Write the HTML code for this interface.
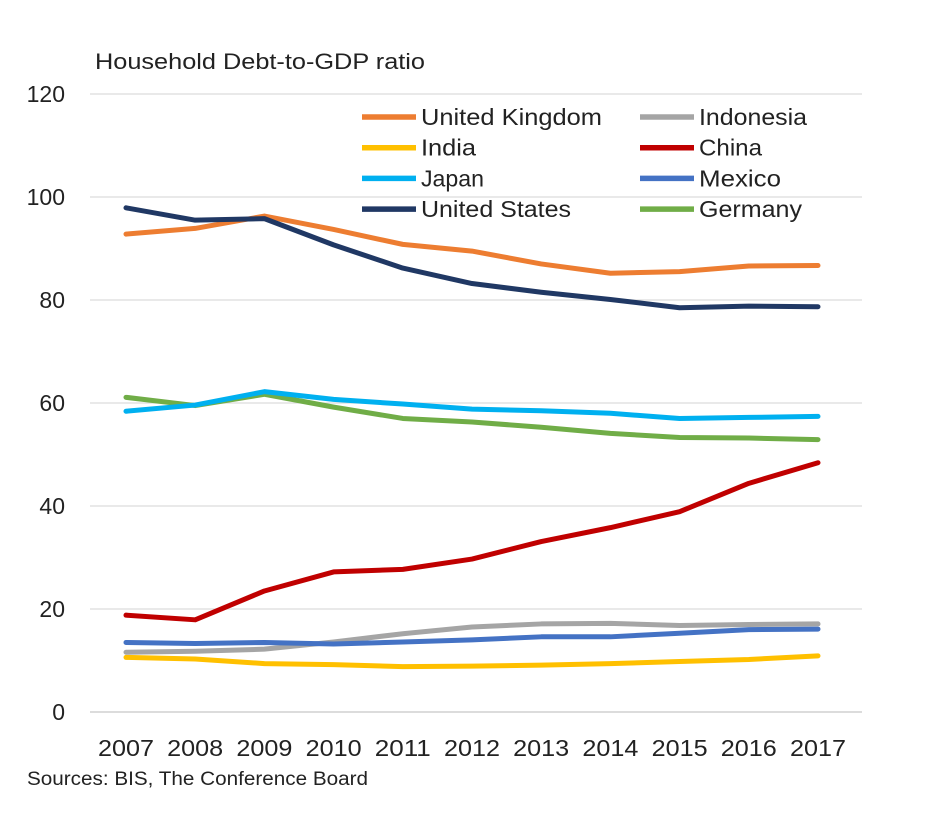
<!DOCTYPE html>
<html><head><meta charset="utf-8"><style>
body{margin:0;background:#fff;font-family:"Liberation Sans",Arial,sans-serif}
svg text{font-family:"Liberation Sans",Arial,sans-serif;fill:#222}
</style></head><body>
<svg id="c" width="941" height="821"></svg>
<script>
const years=[2007,2008,2009,2010,2011,2012,2013,2014,2015,2016,2017];
const yTicks=[0,20,40,60,80,100,120];
const seriesNames=["United Kingdom","United States","Japan","Germany","China","Indonesia","Mexico","India"];
const ukVals=[92.8,93.9,96.3,93.7,90.8,89.5,87,85.2,85.5,86.6,86.7];
const usVals=[97.9,95.5,95.8,90.7,86.2,83.2,81.5,80.1,78.5,78.8,78.7];
const japanVals=[58.4,59.6,62.2,60.7,59.8,58.8,58.5,58,57,57.2,57.4];
const germanyVals=[61.1,59.5,61.7,59.2,57,56.3,55.3,54.1,53.3,53.2,52.9];
const chinaVals=[18.8,17.9,23.5,27.2,27.7,29.7,33.1,35.8,38.9,44.4,48.4];
const indonesiaVals=[11.6,11.8,12.2,13.6,15.2,16.5,17.1,17.2,16.8,17,17.1];
const mexicoVals=[13.5,13.3,13.5,13.2,13.6,14,14.6,14.6,15.3,16,16.1];
const indiaVals=[10.6,10.3,9.4,9.2,8.8,8.9,9.1,9.4,9.8,10.2,10.9];
const NS="http://www.w3.org/2000/svg";
const svg=document.getElementById('c');
const xS=i=>126+i*69.2;
const yS=v=>712-v*(618/120);
function mk(t,a,p){const e=document.createElementNS(NS,t);for(const k in a)e.setAttribute(k,a[k]);(p||svg).appendChild(e);return e;}
let t=mk('text',{x:95,y:69,'font-size':22,textLength:330,lengthAdjust:'spacingAndGlyphs'});t.textContent="Household Debt-to-GDP ratio";


yTicks.forEach(v=>{
 const g=mk('line',{x1:90,x2:862,y1:yS(v),y2:yS(v),stroke:v===0?'#c8c8c8':'#dcdcdc','stroke-width':1.3});
 
 
 const l=mk('text',{x:65,y:yS(v)+8,'font-size':23,'text-anchor':'end'});l.textContent=v;
 
 
});
years.forEach((y,i)=>{
 const l=mk('text',{x:xS(i)-28,y:756,'font-size':23,textLength:56,lengthAdjust:'spacingAndGlyphs'});l.textContent=y;
 
 
});
t=mk('text',{x:27,y:785,'font-size':19,textLength:341,lengthAdjust:'spacingAndGlyphs'});t.textContent="Sources: BIS, The Conference Board";


const draw=[["India",indiaVals,"#FFC000"],["Indonesia",indonesiaVals,"#A5A5A5"],["Mexico",mexicoVals,"#4472C4"],["China",chinaVals,"#C00000"],["Germany",germanyVals,"#70AD47"],["Japan",japanVals,"#00B0F0"],["United Kingdom",ukVals,"#ED7D31"],["United States",usVals,"#203864"]];
draw.forEach(([n,vals,c])=>{
 const p=mk('polyline',{points:vals.map((v,i)=>xS(i)+','+yS(v)).join(' '),fill:'none',stroke:c,'stroke-width':5,'stroke-linejoin':'round','stroke-linecap':'round'});
 
 
});
const legend=[["United Kingdom","#ED7D31",0,0,181],["Indonesia","#A5A5A5",1,0,108],["India","#FFC000",0,1,55],["China","#C00000",1,1,63],["Japan","#00B0F0",0,2,63],["Mexico","#4472C4",1,2,82],["United States","#203864",0,3,150],["Germany","#70AD47",1,3,103]];
legend.forEach(([n,c,col,row,w])=>{
 const x=col?640:362,y=117+row*30.7;
 const g=mk('g',{});
 
 
 mk('line',{x1:x,x2:x+54,y1:y,y2:y,stroke:c,'stroke-width':5.5},g);
 const l=mk('text',{x:x+59,y:y+8,'font-size':23,textLength:w,lengthAdjust:'spacingAndGlyphs'},g);l.textContent=n;
});
</script>
</body></html>
